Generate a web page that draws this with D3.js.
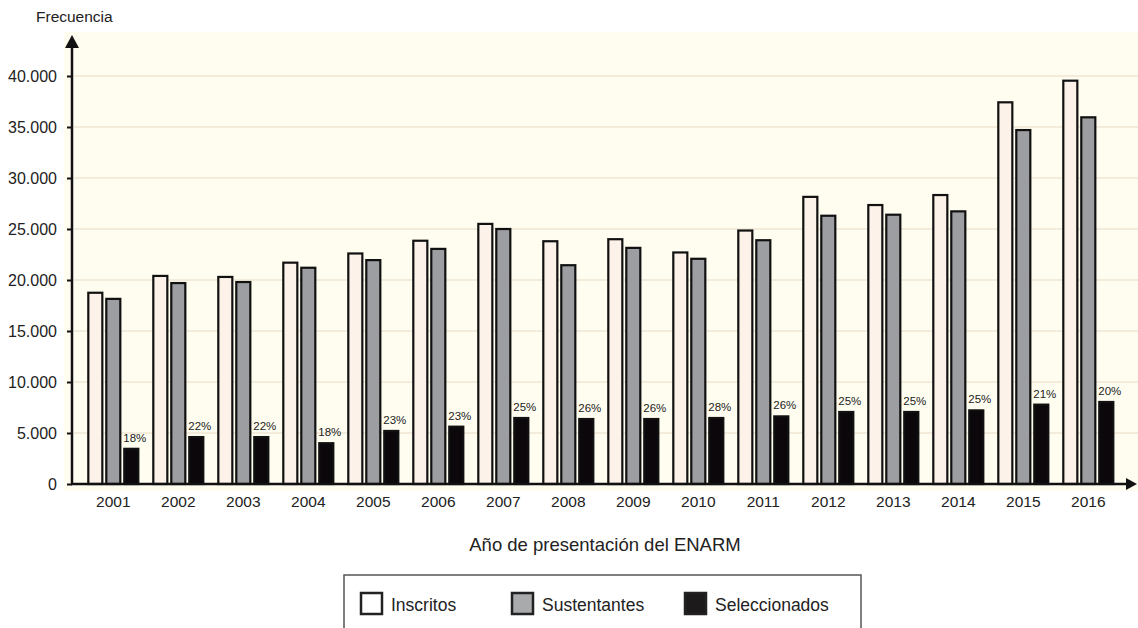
<!DOCTYPE html>
<html>
<head>
<meta charset="utf-8">
<script src="https://cdn.jsdelivr.net/npm/d3@7"></script>
<style>
  html, body { margin: 0; padding: 0; background: #fff; }
  svg { display: block; font-family: 'Liberation Sans', Arial, Helvetica, sans-serif; }
</style>
</head>
<body>
<div id="chart"></div>
<script>
const years = ['2001', '2002', '2003', '2004', '2005', '2006', '2007', '2008',
  '2009', '2010', '2011', '2012', '2013', '2014', '2015', '2016'];
const seriesNames = ['Inscritos', 'Sustentantes', 'Seleccionados'];
const inscritos = [18750, 20400, 20300, 21700, 22600, 23850, 25500, 23800,
  24000, 22700, 24850, 28150, 27350, 28330, 37420, 39540];
const sustentantes = [18150, 19700, 19800, 21200, 21950, 23050, 25000, 21450,
  23150, 22080, 23900, 26300, 26400, 26730, 34700, 35950];
const seleccionados = [3450, 4600, 4600, 4000, 5200, 5620, 6470, 6370,
  6370, 6470, 6630, 7060, 7060, 7220, 7780, 8040];
const percentLabels = ['18%', '22%', '22%', '18%', '23%', '23%', '25%', '26%',
  '26%', '28%', '26%', '25%', '25%', '25%', '21%', '20%'];
const yTicks = [0, 5000, 10000, 15000, 20000, 25000, 30000, 35000, 40000];

const W = 1138, H = 628;
const fills = { Inscritos: '#fcf2e9', Sustentantes: '#9c9ea1', Seleccionados: '#0c070a' };
const legendFills = { Inscritos: '#ffffff', Sustentantes: '#a9aaac', Seleccionados: '#1c1a1b' };

const svg = d3.select('#chart').append('svg').attr('width', W).attr('height', H);

// plot background
svg.append('rect')
  .attr('x', 64).attr('y', 32).attr('width', W - 64).attr('height', 459)
  .attr('fill', '#fffdf0');

const x0 = d3.scaleBand().domain(years).range([80.8, 1120.8]);
const x1 = d3.scaleBand().domain(seriesNames).range([-25, 25]).paddingInner(0.22);
const y = d3.scaleLinear().domain([0, 40000]).range([484, 76]);

const fmt = d3.formatLocale({ decimal: ',', thousands: '.', grouping: [3], currency: ['', ''] }).format(',');

// grid lines
svg.append('g')
  .selectAll('line')
  .data(yTicks.filter(d => d > 0))
  .enter().append('line')
  .attr('x1', 74).attr('x2', W)
  .attr('y1', d => y(d)).attr('y2', d => y(d))
  .attr('stroke', '#f3ecda').attr('stroke-width', 2);

// bars
const rows = years.map((yr, i) => ({
  year: yr,
  values: [
    { key: 'Inscritos', value: inscritos[i] },
    { key: 'Sustentantes', value: sustentantes[i] },
    { key: 'Seleccionados', value: seleccionados[i] }
  ],
  pct: percentLabels[i]
}));

const groups = svg.append('g').selectAll('g')
  .data(rows)
  .enter().append('g')
  .attr('transform', d => `translate(${x0(d.year) + x0.bandwidth() / 2},0)`);

groups.selectAll('rect')
  .data(d => d.values)
  .enter().append('rect')
  .attr('x', d => x1(d.key))
  .attr('width', x1.bandwidth())
  .attr('y', d => y(d.value))
  .attr('height', d => y(0) - y(d.value))
  .attr('fill', d => fills[d.key])
  .attr('stroke', '#111')
  .attr('stroke-width', 2.2);

groups.append('text')
  .attr('x', x1('Seleccionados') - 1)
  .attr('y', d => y(d.values[2].value) - 7)
  .attr('font-size', 11.5)
  .attr('fill', '#222')
  .text(d => d.pct);

// y axis
const yAxis = svg.append('g')
  .attr('transform', 'translate(72,0)')
  .call(d3.axisLeft(y).tickValues(yTicks).tickFormat(d => fmt(d)).tickSize(5).tickPadding(10));
yAxis.select('.domain').remove();
yAxis.selectAll('line').attr('stroke', '#111').attr('stroke-width', 2);
yAxis.selectAll('text').attr('font-size', 16).attr('fill', '#222')
  .attr('font-family', "'Liberation Sans', Arial, sans-serif");

svg.append('line')
  .attr('x1', 72).attr('x2', 72).attr('y1', 46).attr('y2', 485)
  .attr('stroke', '#111').attr('stroke-width', 2.5);
svg.append('path')
  .attr('d', 'M72,35 L65,48 L79,48 Z')
  .attr('fill', '#111');

// x axis
const xAxis = svg.append('g')
  .attr('transform', 'translate(0,484)')
  .call(d3.axisBottom(x0).tickSize(0).tickPadding(12));
xAxis.select('.domain').remove();
xAxis.selectAll('text').attr('font-size', 15.5).attr('fill', '#222')
  .attr('font-family', "'Liberation Sans', Arial, sans-serif");

svg.append('line')
  .attr('x1', 71).attr('x2', 1128).attr('y1', 484).attr('y2', 484)
  .attr('stroke', '#111').attr('stroke-width', 2.5);
svg.append('path')
  .attr('d', 'M1137,484 L1126,478 L1126,490 Z')
  .attr('fill', '#111');

// axis titles
svg.append('text')
  .attr('x', 36).attr('y', 22)
  .attr('font-size', 15.5).attr('fill', '#222')
  .text('Frecuencia');

svg.append('text')
  .attr('x', 605).attr('y', 551)
  .attr('text-anchor', 'middle')
  .attr('font-size', 18.5).attr('fill', '#222')
  .text('Año de presentación del ENARM');

// legend (box open at the bottom, as cropped in the original)
svg.append('path')
  .attr('d', 'M344,640 L344,575 L861,575 L861,640')
  .attr('fill', 'none').attr('stroke', '#555').attr('stroke-width', 1.5);

const legendX = [361, 512, 685];
const legend = svg.append('g').selectAll('g')
  .data(seriesNames)
  .enter().append('g')
  .attr('transform', (d, i) => `translate(${legendX[i]},593)`);

legend.append('rect')
  .attr('width', 21).attr('height', 21)
  .attr('fill', d => legendFills[d])
  .attr('stroke', '#222').attr('stroke-width', 2.5);

legend.append('text')
  .attr('x', 30).attr('y', 17.5)
  .attr('font-size', 17.5).attr('fill', '#222')
  .text(d => d);
</script>
</body>
</html>
